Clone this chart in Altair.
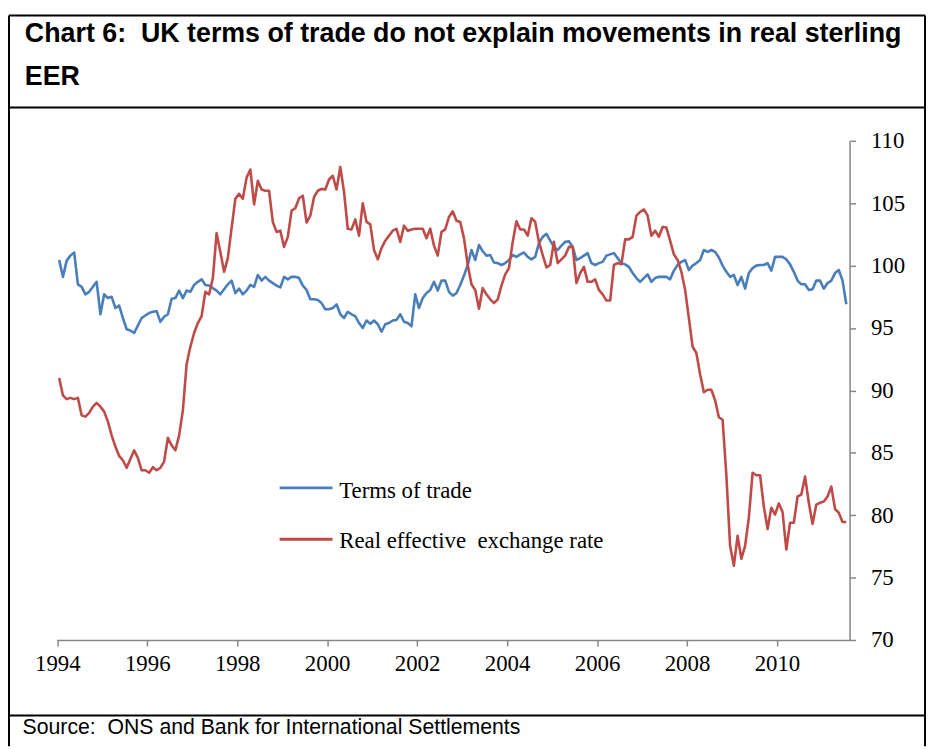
import altair as alt
import pandas as pd

start_year = 1994

# Monthly values, Jan 1994 - Jul 2011
tot = [
    100.45, 99.1, 100.4, 100.8, 101.05, 98.5, 98.3, 97.7, 97.9, 98.3, 98.7, 96.1,
    97.7, 97.4, 97.5, 96.6, 96.8, 95.8, 94.9, 94.8, 94.6, 95.2, 95.8, 96.0,
    96.2, 96.3, 96.35, 95.5, 95.9, 96.1, 97.35, 97.4, 98.0, 97.4, 98.0, 97.9,
    98.45, 98.7, 98.9, 98.45, 98.4, 98.2, 98.0, 97.7, 98.1, 98.5, 98.8, 97.8,
    98.15, 97.7, 98.0, 98.45, 98.3, 99.25, 98.8, 99.1, 98.8, 98.6, 98.4, 98.25,
    99.1, 98.9, 99.1, 99.1, 99.0, 98.4, 98.05, 97.3, 97.3, 97.25, 97.0, 96.5,
    96.5, 96.6, 96.9, 96.1, 95.8, 96.3, 96.1, 95.95, 95.4, 95.0, 95.6, 95.35,
    95.6, 95.3, 94.7, 95.3, 95.4, 95.6, 95.65, 96.1, 95.5, 95.4, 95.15, 97.7,
    96.6, 97.4, 97.8, 98.05, 98.7, 98.0, 98.8, 98.8, 97.9, 97.6, 97.8, 98.45,
    99.2, 100.05, 101.25, 100.45, 101.65, 101.15, 100.8, 100.85, 100.25, 100.2, 100.05, 100.2,
    100.45, 100.85, 100.7, 100.9, 101.05, 100.7, 100.5, 100.7, 101.8, 102.3, 102.55, 102.0,
    101.5, 101.25, 101.6, 101.9, 101.95, 101.5, 100.45, 100.6, 100.8, 101.0, 100.2, 100.05,
    100.2, 100.3, 100.8, 100.9, 101.0, 100.6, 100.2, 100.1, 99.9, 99.4, 99.0, 98.7,
    99.0, 99.3, 98.7, 99.0, 99.1, 99.1, 99.1, 98.9, 99.6, 100.05, 100.3, 100.45,
    99.65, 100.0, 100.2, 100.45, 101.25, 101.1, 101.25, 101.1, 100.65, 100.0, 99.5, 99.1,
    99.25, 98.45, 99.1, 98.15, 99.4, 99.8, 100.0, 100.05, 100.05, 100.2, 99.6, 100.7,
    100.7, 100.7, 100.5, 100.1, 99.5, 98.8, 98.5, 98.5, 98.05, 98.1, 98.8, 98.8,
    98.15, 98.6, 98.8, 99.4, 99.65, 98.8, 96.9,
]

reer = [
    91.0, 89.6, 89.3, 89.4, 89.3, 89.4, 88.0, 87.9, 88.2, 88.7, 89.0, 88.7,
    88.3, 87.5, 86.4, 85.5, 84.75, 84.4, 83.8, 84.5, 85.2, 84.6, 83.6, 83.6,
    83.4, 83.85, 83.6, 83.8, 84.3, 86.2, 85.6, 85.2, 86.4, 88.4, 92.1, 93.5,
    94.6, 95.4, 95.95, 97.9, 97.7, 99.0, 102.6, 101.1, 99.5, 100.6, 103.0, 105.35,
    105.75, 105.35, 107.05, 107.7, 104.9, 106.8, 106.1, 106.0, 106.0, 103.5, 102.7, 102.8,
    101.5, 102.3, 104.4, 104.6, 105.4, 105.6, 103.45, 104.0, 105.5, 106.0, 106.15, 106.1,
    106.9, 107.2, 106.1, 107.9, 105.9, 102.95, 102.9, 103.7, 102.4, 105.0, 103.5, 103.3,
    101.25, 100.5, 101.4, 102.0, 102.4, 102.8, 102.95, 101.9, 103.2, 102.8, 102.9, 102.95,
    102.95, 102.95, 102.2, 102.95, 101.6, 100.8, 102.7, 102.9, 103.9, 104.35, 103.6, 103.5,
    102.2, 100.05, 98.5, 98.05, 96.55, 98.2, 97.7, 97.3, 97.0, 97.3, 98.4, 99.3,
    99.8, 101.9, 103.55, 102.9, 102.9, 102.4, 103.8, 103.5, 101.9, 100.85, 99.85, 100.05,
    101.9, 100.2, 100.5, 100.8, 101.5, 101.5, 98.6, 99.4, 99.9, 98.7, 98.7, 98.9,
    98.05, 97.7, 97.2, 97.2, 100.05, 100.2, 100.1, 102.1, 102.1, 102.3, 104.0, 104.3,
    104.5, 104.0, 102.4, 102.8, 102.3, 103.1, 103.05, 102.0, 100.9, 100.45, 99.5, 98.05,
    95.8, 93.5, 93.0, 91.3, 89.85, 90.05, 90.05, 89.2, 87.85, 87.65, 83.2, 77.55,
    75.95, 78.35, 76.5, 77.55, 79.8, 83.4, 83.2, 83.2, 80.7, 78.9, 80.6, 80.05,
    80.95, 80.25, 77.25, 79.4, 79.4, 81.5, 81.65, 83.1, 81.0, 79.3, 80.85, 81.0,
    81.1, 81.5, 82.3, 80.5, 80.2, 79.45, 79.45,
]

series_names = ["Terms of trade", "Real effective exchange rate"]
series_colors = ["#4A7EBB", "#BE4B48"]
x_ticks = [1994, 1996, 1998, 2000, 2002, 2004, 2006, 2008, 2010]
y_ticks = [70, 75, 80, 85, 90, 95, 100, 105, 110]
title_lines = [
    "Chart 6:\u00a0 UK terms of trade do not explain movements in real sterling",
    "EER",
]
source_text = "Source:\u00a0 ONS and Bank for International Settlements"
legend_labels = ["Terms of trade", "Real effective\u00a0 exchange rate"]

rows = []
for name, vals in zip(series_names, [tot, reer]):
    for i, v in enumerate(vals):
        rows.append({"t": start_year + (i + 0.5) / 12.0, "v": v, "s": name})
df = pd.DataFrame(rows)

W, H = 799, 503
AXIS_GRAY = "#868686"
SERIF = "Liberation Serif"
SANS = "Liberation Sans"

xenc = alt.X(
    "t:Q",
    scale=alt.Scale(domain=[1993.985, 2011.615], nice=False, zero=False),
    axis=alt.Axis(
        values=x_ticks, format="d", grid=False, title=None,
        domainColor=AXIS_GRAY, domainWidth=1.5, tickColor=AXIS_GRAY,
        tickWidth=1.5, tickSize=6, labelFont=SERIF, labelFontSize=23,
        labelColor="black", labelPadding=7, labelFlush=False,
    ),
)
yenc = alt.Y(
    "v:Q",
    scale=alt.Scale(domain=[70, 110], nice=False, zero=False),
    axis=alt.Axis(
        orient="right", values=y_ticks, grid=False, title=None,
        domainColor=AXIS_GRAY, domainWidth=1.5, tickColor=AXIS_GRAY,
        tickWidth=1.5, tickSize=6, labelFont=SERIF, labelFontSize=23,
        labelColor="black", labelPadding=15, labelAlign="left",
        labelBaseline="middle", labelFlush=False,
    ),
)
cscale = alt.Scale(domain=series_names, range=series_colors)

line_layers = []
for name in series_names:
    line_layers.append(
        alt.Chart(df)
        .transform_filter(alt.datum.s == name)
        .mark_line(strokeWidth=2.6, strokeJoin="round")
        .encode(x=xenc, y=yenc, color=alt.Color("s:N", scale=cscale, legend=None))
    )

one = pd.DataFrame({"k": [0]})


def rule(x, x2, y, y2, color="black", width=2.0):
    return alt.Chart(one).mark_rule(color=color, strokeWidth=width).encode(
        x=alt.value(x), x2=alt.value(x2), y=alt.value(y), y2=alt.value(y2)
    )


def text(x, y, s, font, size, weight="normal"):
    return alt.Chart(one).mark_text(
        align="left", baseline="alphabetic", font=font, fontSize=size,
        fontWeight=weight, color="black"
    ).encode(x=alt.value(x), y=alt.value(y), text=alt.value(s))


L, R, T, B = -48, 875, -126.3, 610
frame_layers = [
    rule(L, R, T, T),
    rule(L, L, T, B),
    rule(R, R, T, B),
    rule(L, R, -33.5, -33.5),
    rule(L, R, 579, 579),
]

text_layers = [
    text(-32, -100, title_lines[0], SANS, 27, "bold"),
    text(-32, -56, title_lines[1], SANS, 27, "bold"),
    text(-34.3, 598, source_text, SANS, 21.4),
]

legend_layers = [
    rule(224.7, 278, 349.7, 349.7, series_colors[0], 3),
    rule(224.7, 278, 401.4, 401.4, series_colors[1], 3),
    text(284.7, 360, legend_labels[0], SERIF, 23),
    text(284.7, 410.7, legend_labels[1], SERIF, 23),
]

chart = alt.layer(*frame_layers, *line_layers, *legend_layers, *text_layers).properties(
    width=W,
    height=H,
    padding={"left": 49, "top": 131, "right": 78, "bottom": 107},
    autosize=alt.AutoSizeParams(type="none"),
    background="white",
).configure_view(stroke=None, strokeWidth=0)

chart.save("out.html", embed_options={"renderer": "svg", "actions": False})
